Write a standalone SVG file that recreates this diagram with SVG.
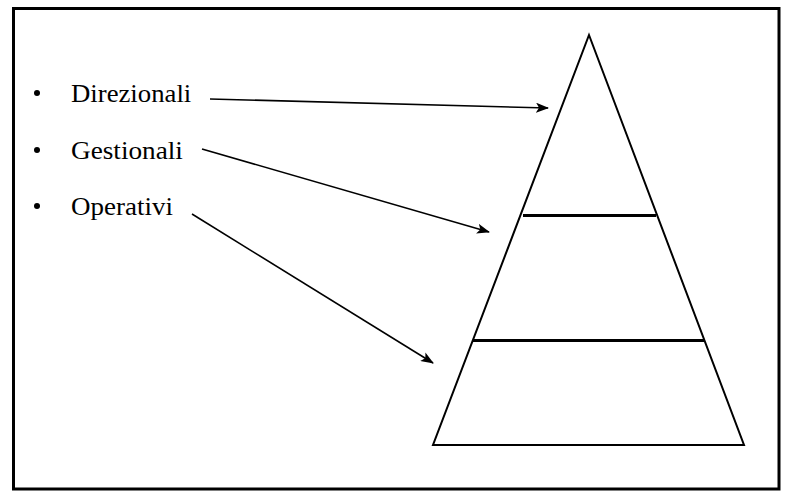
<svg xmlns="http://www.w3.org/2000/svg" width="799" height="500" viewBox="0 0 799 500">
<style>
.lbl{font-family:"Liberation Serif",serif;font-size:25px;fill:#000}
.ln{stroke:#000;stroke-width:2;fill:none}
.div{stroke:#000;stroke-width:2.8;fill:none}
.con{stroke:#000;stroke-width:1.6;fill:none;marker-end:url(#ah)}
</style>
<defs>
<marker id="ah" viewBox="0 0 13 10" refX="12" refY="5" markerWidth="13" markerHeight="10" markerUnits="userSpaceOnUse" orient="auto">
<path d="M0,0 L13,5 L0,10 L3,5 Z" fill="#000"/>
</marker>
</defs>
<rect x="0" y="0" width="799" height="500" fill="#fff"/>
<rect x="13.5" y="8.5" width="765.5" height="480.5" fill="none" stroke="#000" stroke-width="3"/>
<g id="pyramid">
<polygon class="ln" points="589,35 744,445 433,445"/>
<line class="div" x1="523" y1="215.5" x2="656" y2="215.5"/>
<line class="div" x1="473" y1="340.5" x2="705" y2="340.5"/>
</g>
<g id="direzionali">
<circle cx="37" cy="93" r="3" fill="#000"/>
<text class="lbl" transform="translate(71,102) scale(1.07,1)">Direzionali</text>
</g>
<g id="gestionali">
<circle cx="37" cy="150" r="3" fill="#000"/>
<text class="lbl" transform="translate(71,159) scale(1.09,1)">Gestionali</text>
</g>
<g id="operativi">
<circle cx="37" cy="206" r="3" fill="#000"/>
<text class="lbl" transform="translate(71,215) scale(1.08,1)">Operativi</text>
</g>
<g id="connectors">
<line class="con" x1="210" y1="99" x2="548" y2="108"/>
<line class="con" x1="202" y1="149" x2="489" y2="232"/>
<line class="con" x1="192" y1="214" x2="433" y2="363"/>
</g>
</svg>
